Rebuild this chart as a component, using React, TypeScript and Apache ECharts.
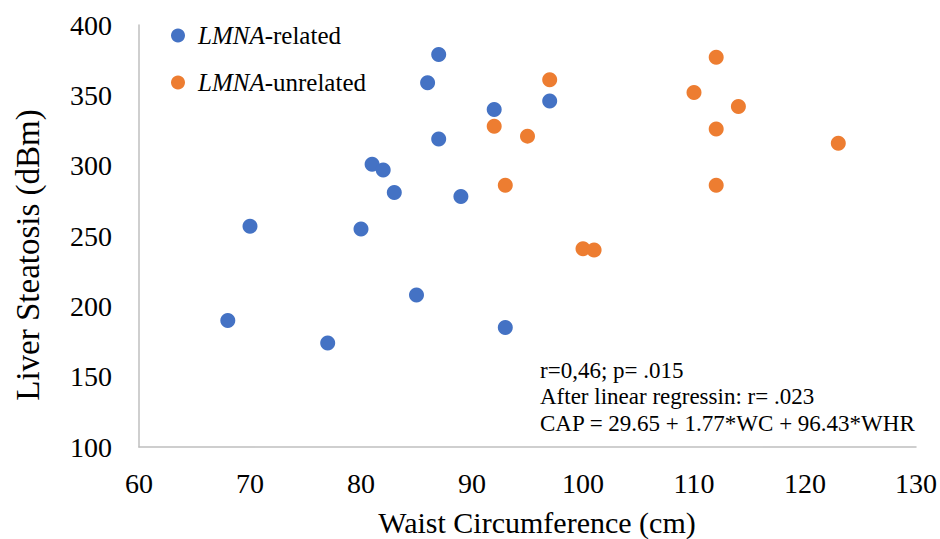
import React, { useEffect, useRef } from "react";
import * as echarts from "echarts";

const relatedX = [68, 70, 77, 80, 81, 82, 83, 85, 86, 87, 87, 89, 92, 93, 97];
const relatedY = [190, 257, 174, 255, 301, 297, 281, 208, 359, 379, 319, 278, 340, 185, 346];
const unrelatedX = [97, 92, 95, 93, 100, 101, 112, 110, 114, 112, 112, 123];
const unrelatedY = [361, 328, 321, 286, 241, 240, 377, 352, 342, 326, 286, 316];
const annotationLines = [
  "r=0,46; p= .015",
  "After linear regressin: r= .023",
  "CAP = 29.65 + 1.77*WC + 96.43*WHR",
];
const xTitle = "Waist Circumference (cm)";
const yTitle = "Liver Steatosis (dBm)";

const FONT = "'Liberation Serif', 'Times New Roman', serif";

export default function App() {
  const ref = useRef<HTMLDivElement>(null);
  useEffect(() => {
    if (!ref.current) return;
    const chart = echarts.init(ref.current, undefined, { renderer: "svg" });
    const toPairs = (xs: number[], ys: number[]) => xs.map((x, i) => [x, ys[i]]);
    chart.setOption({
      animation: false,
      backgroundColor: "#ffffff",
      textStyle: { fontFamily: FONT },
      grid: { left: 139, right: 23, top: 25, bottom: 92, containLabel: false },
      legend: {
        orient: "vertical",
        left: 171,
        top: 23,
        padding: 0,
        itemWidth: 14,
        itemHeight: 14,
        itemGap: 22,
        icon: "circle",
        data: ["LMNA-related", "LMNA-unrelated"],
        formatter: (name: string) => `{i|LMNA}{n|${name.replace("LMNA", "")}}`,
        textStyle: {
          fontFamily: FONT,
          rich: {
            i: { fontFamily: FONT, fontSize: 25, lineHeight: 30, fontStyle: "italic", color: "#000", padding: [0, 0, 0, 8] },
            n: { fontFamily: FONT, fontSize: 25, lineHeight: 30, color: "#000" },
          },
        },
      },
      xAxis: {
        type: "value",
        min: 60,
        max: 130,
        interval: 10,
        axisLine: { show: true, lineStyle: { color: "#bfbfbf", width: 1.5 } },
        axisTick: { show: false },
        splitLine: { show: false },
        axisLabel: { fontFamily: FONT, fontSize: 28, color: "#000", margin: 22 },
      },
      yAxis: {
        type: "value",
        min: 100,
        max: 400,
        interval: 50,
        axisLine: { show: true, lineStyle: { color: "#bfbfbf", width: 1.5 } },
        axisTick: { show: false },
        splitLine: { show: false },
        axisLabel: { fontFamily: FONT, fontSize: 28, color: "#000", margin: 27 },
      },
      graphic: [
        {
          type: "text",
          x: 537,
          y: 522,
          style: {
            text: xTitle,
            fontFamily: FONT,
            fontSize: 30,
            fill: "#000",
            align: "center",
            verticalAlign: "middle",
          },
        },
        {
          type: "text",
          x: 28,
          y: 255,
          rotation: Math.PI / 2,
          style: {
            text: yTitle,
            fontFamily: FONT,
            fontSize: 33,
            fill: "#000",
            align: "center",
            verticalAlign: "middle",
          },
        },
        {
          type: "text",
          left: 540,
          top: 357,
          style: {
            text: annotationLines.join("\n"),
            fontFamily: FONT,
            fontSize: 23,
            lineHeight: 26.5,
            fill: "#000",
          },
        },
      ],
      series: [
        {
          name: "LMNA-related",
          type: "scatter",
          symbolSize: 15,
          itemStyle: { color: "#4472c4", opacity: 1 },
          data: toPairs(relatedX, relatedY),
        },
        {
          name: "LMNA-unrelated",
          type: "scatter",
          symbolSize: 15,
          itemStyle: { color: "#ed7d31", opacity: 1 },
          data: toPairs(unrelatedX, unrelatedY),
        },
      ],
    });
    return () => chart.dispose();
  }, []);
  return <div ref={ref} style={{ width: 940, height: 539, position: "absolute", left: 0, top: 0 }} />;
}
